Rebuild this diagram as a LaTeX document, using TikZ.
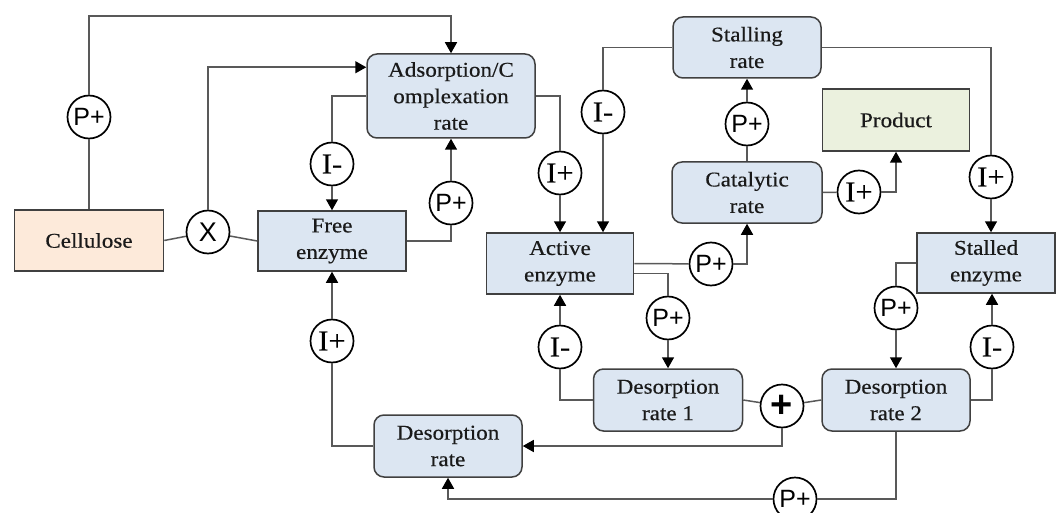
\documentclass[tikz,border=0pt]{standalone}
\usepackage{fontspec}
\setmainfont{Liberation Serif}[FakeStretch=1.1,FakeBold=0.4]
\newfontfamily\sanslab{Liberation Sans}
\newfontfamily\serlab{Liberation Serif}[FakeStretch=1.05,FakeBold=0.4]
\usetikzlibrary{arrows.meta}
\definecolor{boxblue}{HTML}{DCE6F2}
\definecolor{boxpeach}{HTML}{FDEADA}
\definecolor{boxgreen}{HTML}{EBF1DE}
\definecolor{bordergray}{HTML}{404040}
\definecolor{linegray}{HTML}{595959}
\definecolor{textdark}{HTML}{1A1A1A}
\begin{document}
\begin{tikzpicture}[x=1pt,y=-1pt,
  box/.style={draw=bordergray, line width=1.5pt, fill=boxblue, inner sep=0pt, align=center, font=\fontsize{21}{26.5}\selectfont, text=textdark},
  rbox/.style={box, rounded corners=10pt},
  circ/.style={circle, draw=black, line width=1.7pt, fill=white, minimum size=43pt, inner sep=0pt, text=black},
  pl/.style={circ, font=\sanslab\fontsize{25}{25}\selectfont},
  il/.style={circ, font=\serlab\fontsize{29}{29}\selectfont},
  conn/.style={draw=linegray, line width=1.5pt},
  arr/.style={conn, -{Triangle[length=11pt,width=12pt,color=black]}}
]
\useasboundingbox (0,0) rectangle (1056,513);
% boxes
\node[box, fill=boxpeach, minimum width=149pt, minimum height=61pt] (cell) at (89,240.5) {Cellulose};
\node[box, minimum width=148pt, minimum height=60pt] (free) at (332,241) {Free\\enzyme};
\node[rbox, minimum width=168pt, minimum height=84pt] (ads) at (451,96) {Adsorption/C\\omplexation\\rate};
\node[box, minimum width=147pt, minimum height=61pt] (active) at (560,263.5) {Active\\enzyme};
\node[rbox, minimum width=148pt, minimum height=61pt] (stalling) at (747,47.5) {Stalling\\rate};
\node[rbox, minimum width=150pt, minimum height=61pt] (catal) at (747,192.5) {Catalytic\\rate};
\node[box, fill=boxgreen, minimum width=147pt, minimum height=62pt] (product) at (896,120) {Product};
\node[box, minimum width=138pt, minimum height=60pt] (stalled) at (986,263) {Stalled\\enzyme};
\node[rbox, minimum width=149pt, minimum height=62pt] (des1) at (668,400) {Desorption\\rate 1};
\node[rbox, minimum width=148pt, minimum height=62pt] (des2) at (896,400) {Desorption\\rate 2};
\node[rbox, minimum width=148pt, minimum height=62pt] (desr) at (448,446) {Desorption\\rate};
% circles
\node[pl] (pTop) at (89,117) {P+};
\node[circ, font=\sanslab\fontsize{27}{27}\selectfont] (xx) at (208,232) {X};
\node[il] (iAds) at (332,164) {I-};
\node[pl] (pFree) at (451,203) {P+};
\node[il] (iAct) at (560,173) {I+};
\node[il] (iStall) at (603,112) {I-};
\node[pl] (pCat) at (747,124) {P+};
\node[il] (iProd) at (859,192) {I+};
\node[il] (iStalled) at (991,177) {I+};
\node[pl] (pAct) at (711,264) {P+};
\node[pl] (pDes1) at (668,318) {P+};
\node[il] (iDes1) at (560,347) {I-};
\node[circ, font=\sanslab\bfseries\fontsize{38}{38}\selectfont] (plus) at (782,406) {+};
\node[pl] (pStalled) at (896,308) {P+};
\node[il] (iDes2) at (992,347) {I-};
\node[il] (iFree) at (332,341) {I+};
\node[pl] (pBot) at (795,499) {P+};
% connectors
\coordinate (t1) at (89,16);
\draw[conn] (cell.north) -- (pTop);
\draw[arr] (pTop) -- (t1) -| (ads.north);
\draw[conn] (cell.east) -- (xx);
\draw[conn] (xx) -- (free.west);
\draw[arr] (xx) |- ([yshift=-14pt]ads.north west);
\draw[conn] (ads.west) -| (iAds);
\draw[arr] (iAds) -- (free.north);
\draw[conn] (free.east) -| (pFree);
\draw[arr] (pFree) -- (ads.south);
\draw[conn] (ads.east) -| (iAct);
\draw[arr] (iAct) -- (active.north);
\draw[conn] (stalling.west) -| (iStall);
\draw[arr] (iStall) -- (iStall |- active.north);
\draw[conn] (stalling.east) -| (iStalled);
\draw[arr] (iStalled) -- (iStalled |- stalled.north);
\draw[conn] (catal.north) -- (pCat);
\draw[arr] (pCat) -- (stalling.south);
\draw[conn] (catal.east) -- (iProd);
\draw[arr] (iProd) -| (product.south);
\draw[conn] (active.east) -- (pAct);
\draw[arr] (pAct) -| (catal.south);
\draw[conn] ([yshift=-10pt]active.east) -| (pDes1);
\draw[arr] (pDes1) -- (des1.north);
\draw[conn] (des1.west) -| (iDes1);
\draw[arr] (iDes1) -- (active.south);
\draw[conn] (des1.east) -- (plus);
\draw[conn] (plus) -- (des2.west);
\draw[arr] (plus) |- (desr.east);
\draw[conn] (stalled.west) -| (pStalled);
\draw[arr] (pStalled) -- (des2.north);
\draw[conn] (des2.east) -| (iDes2);
\draw[arr] (iDes2) -- (iDes2 |- stalled.south);
\draw[conn] (des2.south) |- (pBot);
\draw[arr] (pBot) -| (desr.south);
\draw[conn] (desr.west) -| (iFree);
\draw[arr] (iFree) -- (free.south);
\end{tikzpicture}
\end{document}
